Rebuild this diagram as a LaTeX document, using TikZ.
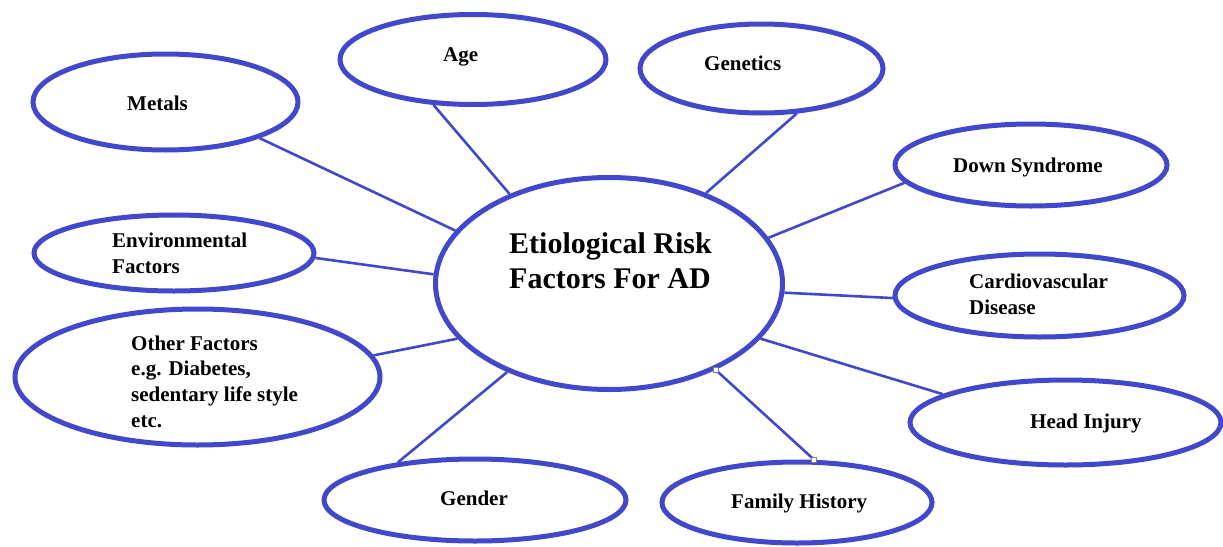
\documentclass[tikz,border=0pt]{standalone}
\usepackage{fontspec}
\setmainfont{Liberation Serif}
\usetikzlibrary{shapes.geometric}
\definecolor{ebl}{RGB}{66,72,204}
\begin{document}
\begin{tikzpicture}[x=1pt,y=-1pt,
 oval/.style={draw=ebl,line width=5pt,ellipse,inner sep=0pt},
 link/.style={draw=ebl,line width=2.6pt},
 lbl/.style={anchor=west,align=left,inner sep=0pt,font=\fontsize{21}{25.7}\selectfont\bfseries},
 big/.style={anchor=west,align=left,inner sep=0pt,font=\fontsize{30}{35}\selectfont\bfseries},
 handle/.style={draw=gray,fill=white,line width=0.8pt,minimum size=5pt,inner sep=0pt}]
\useasboundingbox[fill=white] (0,0) rectangle (1223,546);
% ellipses
\node[oval,minimum width=347pt,minimum height=212pt] (c) at (609,283.5) {};
\node[oval,minimum width=266pt,minimum height=90pt] (age) at (473,59.5) {};
\node[oval,minimum width=243pt,minimum height=89pt] (gen) at (761.5,68.5) {};
\node[oval,minimum width=265pt,minimum height=96pt] (met) at (165.5,102) {};
\node[oval,minimum width=272pt,minimum height=82pt] (down) at (1031,165) {};
\node[oval,minimum width=280pt,minimum height=76pt] (env) at (174,253) {};
\node[oval,minimum width=289pt,minimum height=83pt] (card) at (1039.5,295.5) {};
\node[oval,minimum width=365pt,minimum height=136pt] (oth) at (197.5,377) {};
\node[oval,minimum width=311pt,minimum height=85pt] (head) at (1065.5,422.5) {};
\node[oval,minimum width=302pt,minimum height=82pt] (gend) at (475,500) {};
\node[oval,minimum width=270pt,minimum height=81pt] (fam) at (797,502.5) {};
% connectors
\draw[link] (age.229.5) -- (c.138.8);
\draw[link] (gen.308.6) -- (c.43.9);
\draw[link] (met.339.8) -- (c.161.7);
\draw[link] (down.188) -- (c.16);
\draw[link] (env.358.4) -- (c.177.9);
\draw[link] (card.181) -- (c.357.9);
\draw[link] (oth.7) -- (c.200.4);
\draw[link] (head.167.6) -- (c.340.7);
\draw[link] (gend.154.6) -- (c.221.3);
\draw[link] (fam.68) -- (c.321.5);
\node[handle] (h1) at (c.321.5) {};
\node[handle] (h2) at (fam.68) {};
% labels
\node[big] (tc) at (509,260.5) {Etiological Risk\\Factors For AD};
\node[lbl] (tage) at (443,57) {Age};
\node[lbl] (tgen) at (704,63) {Genetics};
\node[lbl] (tmet) at (127,103) {Metals};
\node[lbl] (tdown) at (953,167) {Down Syndrome};
\node[lbl] (tenv) at (112,253) {Environmental\\Factors};
\node[lbl] (tcard) at (969,294.5) {Cardiovascular\\Disease};
\node[lbl] (toth) at (131,381.5) {Other Factors\\e.g. Diabetes,\\sedentary life style\\etc.};
\node[lbl] (thead) at (1030,423) {Head Injury};
\node[lbl] (tgend) at (440,498) {Gender};
\node[lbl] (tfam) at (731,503) {Family History};
\end{tikzpicture}
\end{document}
